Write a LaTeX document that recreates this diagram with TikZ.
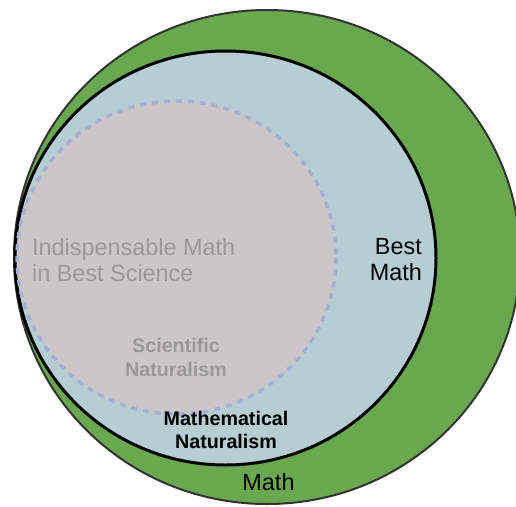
\documentclass[tikz,border=0pt]{standalone}
\usepackage{fontspec}
\setmainfont{Liberation Sans}
\definecolor{mathgreen}{HTML}{6AA84F}
\definecolor{bestblue}{HTML}{B6CDD4}
\definecolor{indgray}{HTML}{CBC7C8}
\definecolor{dashblue}{HTML}{A5B0D3}
\definecolor{txtgray}{HTML}{999999}
\tikzset{
  bigtxt/.style={inner sep=0pt, font=\fontsize{23.4}{26}\selectfont},
  boldtxt/.style={inner sep=0pt, align=center, font=\bfseries\fontsize{19.7}{23.5}\selectfont},
}
\begin{document}
\begin{tikzpicture}[x=1pt,y=-1pt]
\useasboundingbox (0,0) rectangle (516,506);
\clip (0,0) rectangle (516,506);
% Math
\draw[fill=mathgreen, draw=black!80, line width=2pt] (267,257) ellipse [x radius=253, y radius=247];
% Best Math
\draw[fill=bestblue, draw=black, line width=3pt] (225.5,258) ellipse [x radius=210.5, y radius=207];
% Indispensable Math in Best Science
\fill[indgray] (176.5,257.5) ellipse [x radius=159.5, y radius=156.5];
\draw[dashblue, line width=3.5pt, dash pattern=on 6pt off 6pt] (176.5,257.5) ellipse [x radius=159.5, y radius=156.5];
% labels
\node[bigtxt, text=txtgray, align=left, anchor=west] (ind) at (32,260) {Indispensable Math\\in Best Science};
\node[bigtxt, align=right, anchor=east] (best) at (422,260) {Best\\Math};
\node[boldtxt, text=txtgray] (sci) at (176,357.5) {Scientific\\Naturalism};
\node[boldtxt] (mnat) at (226,430) {Mathematical\\Naturalism};
\node[bigtxt] (math) at (268.5,482) {Math};
\end{tikzpicture}
\end{document}
